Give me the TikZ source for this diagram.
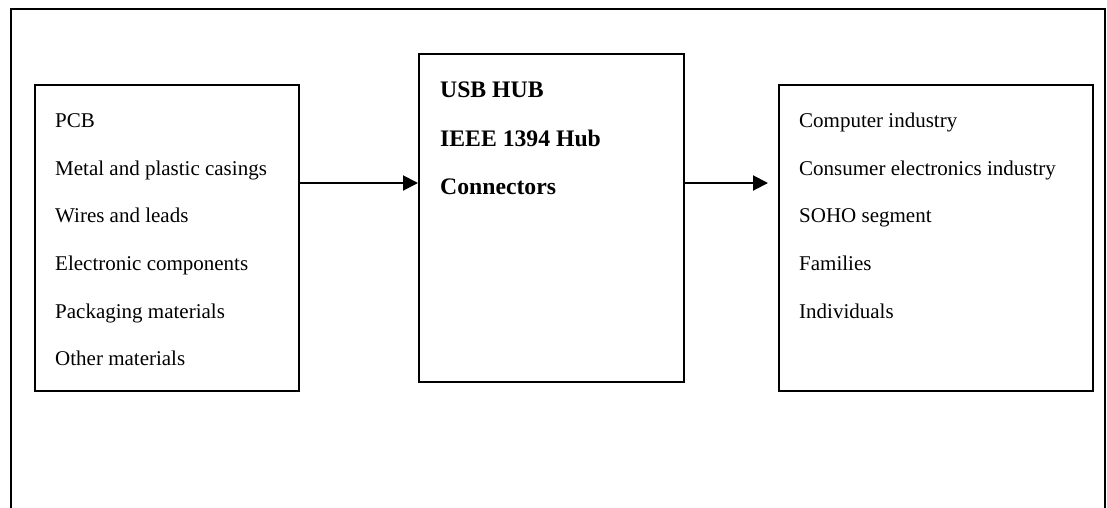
\documentclass[tikz,border=0pt]{standalone}
\usepackage{fontspec}
\setmainfont{Liberation Serif}
\usetikzlibrary{arrows.meta}
\tikzset{
  frameline/.style={line width=2pt, black},
  box/.style={draw, line width=1.7pt, rectangle, inner sep=0pt, anchor=north west},
  item/.style={anchor=base west, inner sep=0pt, font=\fontsize{21}{25}\selectfont},
  bolditem/.style={anchor=base west, inner sep=0pt, font=\fontsize{23.7}{28}\selectfont\bfseries},
  arr/.style={line width=2pt, -{Triangle[length=15pt,width=15pt]}}
}
\begin{document}
\begin{tikzpicture}[x=1pt,y=-1pt]
\useasboundingbox (0,0) rectangle (1107,507);
% outer frame (open at the bottom)
\draw[frameline] (11,508) -- (11,9) -- (1105,9) -- (1105,508);
% boxes
\node[box, minimum width=264pt, minimum height=306pt] (left) at (34,84) {};
\node[box, minimum width=265pt, minimum height=328pt] (mid) at (418,53) {};
\node[box, minimum width=314pt, minimum height=306pt] (right) at (778,84) {};
% left list
\node[item] (l1) at (55,127) {PCB};
\node[item] (l2) at (55,175) {Metal and plastic casings};
\node[item] (l3) at (55,222) {Wires and leads};
\node[item] (l4) at (55,270) {Electronic components};
\node[item] (l5) at (55,318) {Packaging materials};
\node[item] (l6) at (55,365) {Other materials};
% middle list
\node[bolditem] (m1) at (440,97) {USB HUB};
\node[bolditem] (m2) at (440,146) {IEEE 1394 Hub};
\node[bolditem] (m3) at (440,194) {Connectors};
% right list
\node[item] (r1) at (799,127) {Computer industry};
\node[item] (r2) at (799,175) {Consumer electronics industry};
\node[item] (r3) at (799,222) {SOHO segment};
\node[item] (r4) at (799,270) {Families};
\node[item] (r5) at (799,318) {Individuals};
% connectors
\coordinate (rowy) at (0,183);
\draw[arr] (left.east |- rowy) -- (mid.west |- rowy);
\draw[arr] (mid.east |- rowy) -- ([xshift=-10pt]right.west |- rowy);
\end{tikzpicture}
\end{document}
